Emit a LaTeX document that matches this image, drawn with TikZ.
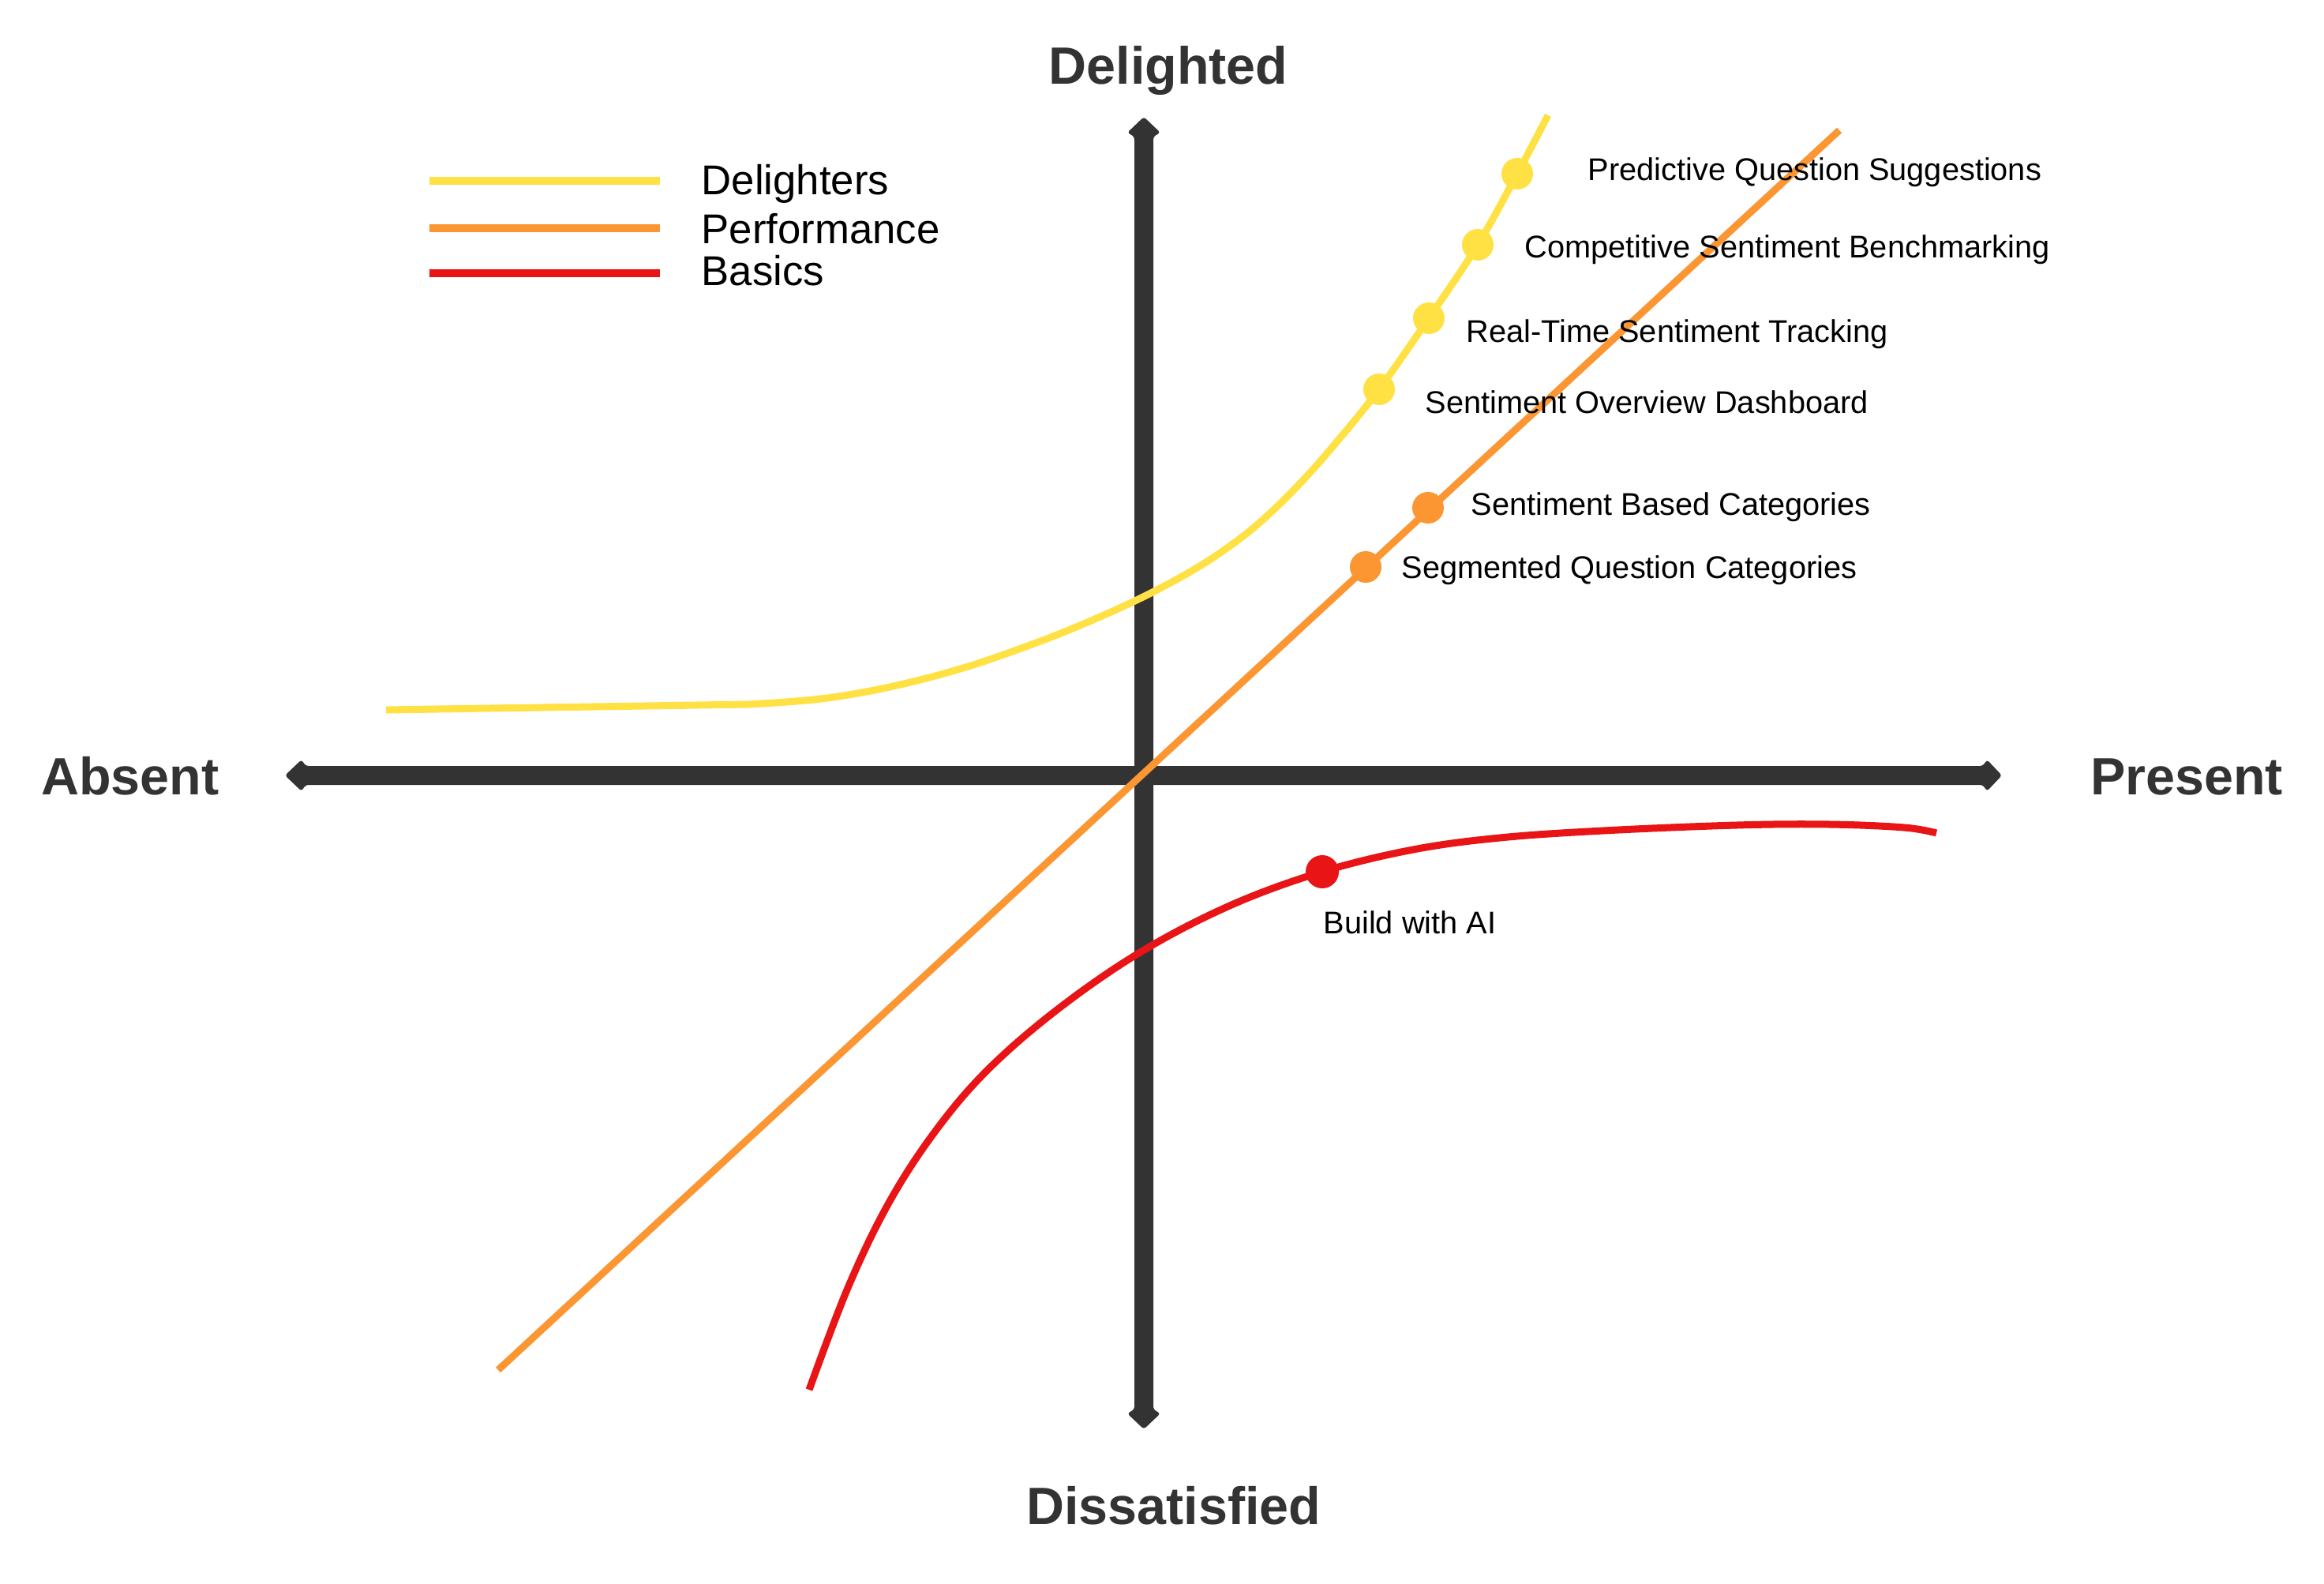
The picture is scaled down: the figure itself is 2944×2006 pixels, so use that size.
\documentclass[tikz,border=0pt]{standalone}
\usepackage{fontspec}
\setmainfont{Liberation Sans}
\definecolor{axisgray}{HTML}{333333}
\definecolor{delight}{HTML}{FFE144}
\definecolor{perform}{HTML}{FB9633}
\definecolor{basic}{HTML}{E81416}
\begin{document}
\begin{tikzpicture}[x=0.01cm,y=-0.01cm,
  axisbody/.style={fill=axisgray, rounded corners=1pt},
  axislabel/.style={anchor=base, inner sep=0pt, text=axisgray,
    font=\fontsize{18.9}{22}\selectfont\bfseries},
  curve/.style={line width=0.09cm},
  legline/.style={line width=0.1cm},
  legtext/.style={anchor=base west, inner sep=0pt, font=\fontsize{15}{18}\selectfont},
  featlabel/.style={anchor=base west, inner sep=0pt, font=\fontsize{11.3}{13.5}\selectfont},
  dot/.style={circle, inner sep=0pt, minimum size=0.4cm},
  ydot/.style={dot, fill=delight},
  odot/.style={dot, fill=perform},
  rdot/.style={dot, fill=basic, minimum size=0.42cm}
]
\useasboundingbox (0,0) rectangle (2944,2006);

% axes with arrowheads at both ends
\path[axisbody] (1437,173) -- (1428,168) -- (1449,148) -- (1470,168) -- (1461,173)
  -- (1461,1785) -- (1470,1790) -- (1449,1810) -- (1428,1790) -- (1437,1785) -- cycle;
\path[axisbody] (387,970) -- (382,962) -- (361,982) -- (382,1002) -- (387,994)
  -- (2512,994) -- (2517,1002) -- (2536,982) -- (2517,962) -- (2512,970) -- cycle;

% axis labels
\node[axislabel] (delighted) at (1480,107) {Delighted};
\node[axislabel] (dissatisfied) at (1487,1930) {Dissatisfied};
\node[axislabel] (absent) at (165,1006) {Absent};
\node[axislabel] (present) at (2770,1006) {Present};

% legend
\draw[legline, delight] (544,229) -- (836,229);
\draw[legline, perform] (544,289) -- (836,289);
\draw[legline, basic] (544,346) -- (836,346);
\node[legtext] (legd) at (888,247) {Delighters};
\node[legtext] (legp) at (888,308) {Performance};
\node[legtext] (legb) at (888,362) {Basics};

% performance line
\draw[curve, perform] (631,1735) -- (2330,165);

% delighters curve
\draw[curve, delight, line join=round] (489,899) -- (949,892)
  plot[smooth, tension=0.6] coordinates {(949,892) (1040,885) (1127,870) (1220,846)
  (1310,815) (1380,787) (1450,755) (1513,721) (1560,690) (1600,658) (1647,612)
  (1693,560) (1747,493) (1810,403) (1872,310) (1922,220) (1961,146)};

% basics curve
\draw[curve, basic] plot[smooth, tension=0.6] coordinates {(1025,1760) (1074,1631)
  (1125,1525) (1183,1435) (1250,1356) (1340,1278) (1446,1205) (1560,1146)
  (1675,1104) (1790,1076) (1900,1061) (2031,1052) (2200,1045) (2317,1044)
  (2412,1048) (2453,1055)};

% feature markers
\node[ydot] (pqs) at (1922,220) {};
\node[ydot] (csb) at (1872,310) {};
\node[ydot] (rts) at (1810,403) {};
\node[ydot] (sod) at (1747,493) {};
\node[odot] (sbc) at (1809,643) {};
\node[odot] (sqc) at (1730,718) {};
\node[rdot] (bai) at (1675,1104) {};

% feature labels
\node[featlabel] (pqsl) at (2011,229) {Predictive Question Suggestions};
\node[featlabel] (csbl) at (1931,327) {Competitive Sentiment Benchmarking};
\node[featlabel] (rtsl) at (1857,433) {Real-Time Sentiment Tracking};
\node[featlabel] (sodl) at (1805,523) {Sentiment Overview Dashboard};
\node[featlabel] (sbcl) at (1863,652) {Sentiment Based Categories};
\node[featlabel] (sqcl) at (1775,732) {Segmented Question Categories};
\node[featlabel] (bail) at (1676,1182) {Build with AI};
\end{tikzpicture}
\end{document}
